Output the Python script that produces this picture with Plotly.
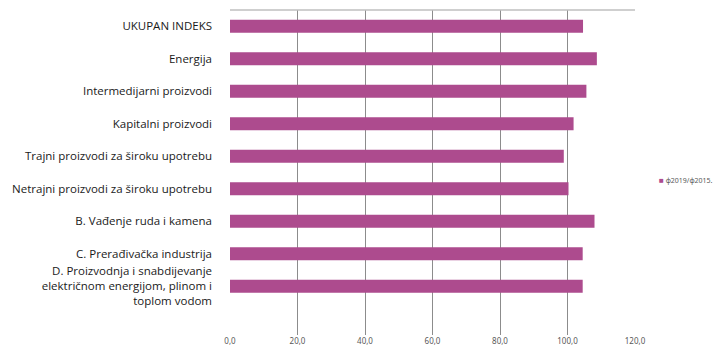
import plotly.graph_objects as go

# Industrial production indices, average 2019 vs average 2015
categories = [
    "UKUPAN INDEKS",
    "Energija",
    "Intermedijarni proizvodi",
    "Kapitalni proizvodi",
    "Trajni proizvodi za široku upotrebu",
    "Netrajni proizvodi za široku upotrebu",
    "B. Vađenje ruda i kamena",
    "C. Prerađivačka industrija",
    "D. Proizvodnja i snabdijevanje<br>električnom energijom, plinom i<br>toplom vodom",
]
values = [104.6, 108.7, 105.6, 101.8, 98.9, 100.3, 108.0, 104.5, 104.5]
series_name = "ф2019/ф2015."
x_ticks = [0, 20, 40, 60, 80, 100, 120]
bar_color = "#ad4b8e"

fig = go.Figure()
fig.add_trace(go.Bar(
    y=categories,
    x=values,
    orientation="h",
    name=series_name,
    marker=dict(color=bar_color, line=dict(width=0)),
    width=0.4,
    showlegend=False,
))

fig.update_layout(
    template="none",
    width=718,
    height=350,
    margin=dict(l=230, r=83, t=10, b=15, autoexpand=False),
    paper_bgcolor="white",
    plot_bgcolor="white",
    separators=",.",
    font=dict(family="Noto Sans", color="#1a1a1a"),
    showlegend=False,
    xaxis=dict(
        range=[0, 120],
        tickvals=x_ticks,
        tickformat=".1f",
        showgrid=True,
        gridcolor="#8c8c8c",
        gridwidth=1,
        zeroline=False,
        showline=False,
        tickfont=dict(size=8, color="#595959"),
        ticks="",
        fixedrange=True,
    ),
    yaxis=dict(
        type="category",
        categoryorder="array",
        categoryarray=categories,
        range=[9.5, -0.5],
        showgrid=False,
        zeroline=False,
        showline=False,
        ticks="",
        ticklabelstandoff=17,
        tickfont=dict(family="Open Sans", size=11.5, color="#1a1a1a"),
    ),
)

# light border along the top edge of the plotting area
fig.add_shape(type="line", xref="paper", yref="paper",
              x0=0, x1=1, y0=1, y1=1,
              line=dict(color="#bfbfbf", width=1.5))

# legend key: small square followed by the series name
fig.add_annotation(
    xref="paper", yref="paper", x=1.056, y=0.477,
    xanchor="left", yanchor="middle", showarrow=False,
    borderpad=0,
    text=f"<span style='color:{bar_color};font-size:8px'>■</span> {series_name}",
    font=dict(family="Noto Sans", size=7, color="#595959"),
)

fig.write_html("out.html")
